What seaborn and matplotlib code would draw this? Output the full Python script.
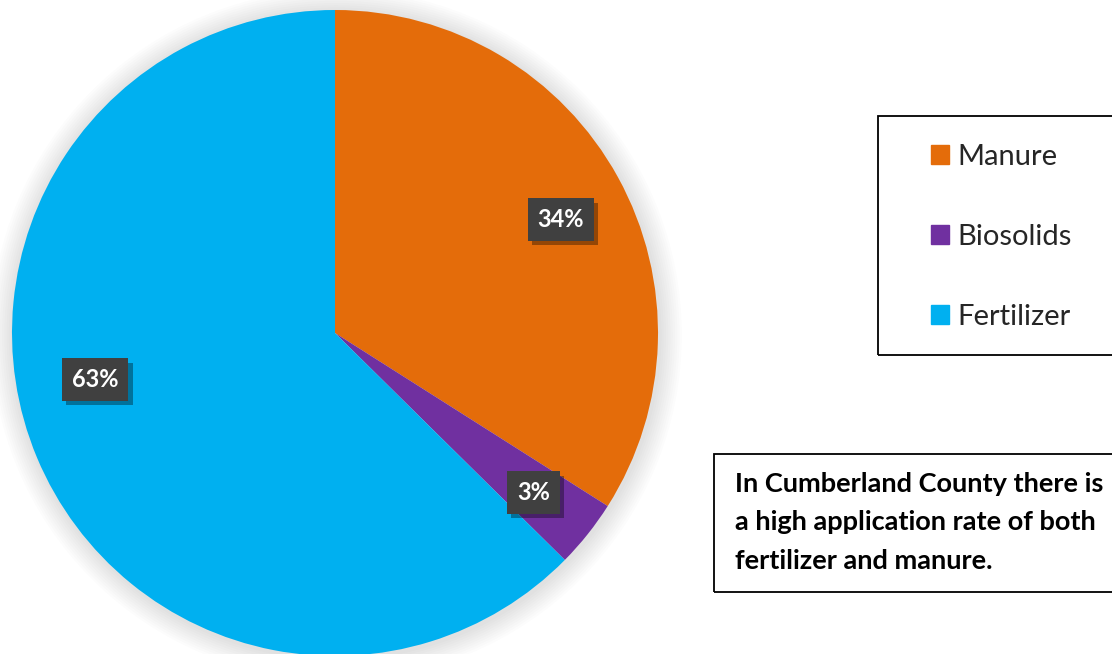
import matplotlib
matplotlib.use("Agg")
import matplotlib.pyplot as plt
import matplotlib.patches as mpatches
import matplotlib.patheffects as pe
import numpy as np
import seaborn as sns

categories = ["Manure", "Biosolids", "Fertilizer"]
values = [34.0, 3.4, 62.6]
colors = ["#E46C0A", "#7030A0", "#00B0F0"]
note = "In Cumberland County there is\na high application rate of both\nfertilizer and manure."

sns.set_theme(style="white")
plt.rcParams["font.family"] = ["Lato", "DejaVu Sans"]

W, H = 1112, 654
fig = plt.figure(figsize=(W / 100, H / 100), dpi=100)
fig.patch.set_facecolor("white")

cx, cy, r = 335, 333, 323
ax = fig.add_axes([(cx - r) / W, (H - cy - r) / H, 2 * r / W, 2 * r / H])

# soft glow/shadow behind the pie
for k in range(10, 0, -1):
    ax.add_patch(mpatches.Circle((0.004, -0.006), 1 + 0.007 * k,
                                 facecolor="black", edgecolor="none",
                                 alpha=0.013, clip_on=False, zorder=0))

wedges, texts, autotexts = ax.pie(
    values, colors=colors, startangle=90, counterclock=False, radius=1,
    autopct="%.0f%%", pctdistance=0.785,
    wedgeprops=dict(linewidth=0, zorder=1),
    textprops=dict(color="white", fontsize=17, fontweight="bold"),
)
ax.set_xlim(-1, 1)
ax.set_ylim(-1, 1)
ax.axis("off")
# Excel-style label placement tweaks
ang = np.deg2rad(190.6)
autotexts[2].set_position((0.755 * np.cos(ang), 0.755 * np.sin(ang)))
ang0 = np.deg2rad(27.0)
autotexts[0].set_position((0.785 * np.cos(ang0), 0.785 * np.sin(ang0)))
for t in autotexts:
    t.set_bbox(dict(boxstyle="square,pad=0.42", facecolor="#404040",
                    edgecolor="none"))
    t.get_bbox_patch().set_path_effects(
        [pe.SimplePatchShadow(offset=(3, -3), shadow_rgbFace="black", alpha=0.35),
         pe.Normal()])
    t.set_ha("center")
    t.set_va("center_baseline")
    t.set_zorder(5)

# legend frame
fig.patches.append(mpatches.Rectangle((878 / W, (H - 355) / H), 0.4, 239 / H,
                                      transform=fig.transFigure, fill=False,
                                      edgecolor="black", linewidth=1.3))
handles = [mpatches.Patch(color=c, label=l) for c, l in zip(colors, categories)]
fig.legend(handles=handles, loc="center left",
           bbox_to_anchor=(931 / W, (H - 237) / H), frameon=False,
           fontsize=21, handlelength=0.62, handleheight=0.62,
           handletextpad=0.3, labelspacing=1.85, borderpad=0, borderaxespad=0)

# note box
fig.patches.append(mpatches.Rectangle((714 / W, (H - 592) / H), 0.5, 138 / H,
                                      transform=fig.transFigure, fill=False,
                                      edgecolor="black", linewidth=1.3))
fig.text(735 / W, (H - 472) / H, note, ha="left", va="top", fontsize=19.5,
         fontweight="bold", color="black", linespacing=1.72)

fig.savefig("out.png", dpi=100)
